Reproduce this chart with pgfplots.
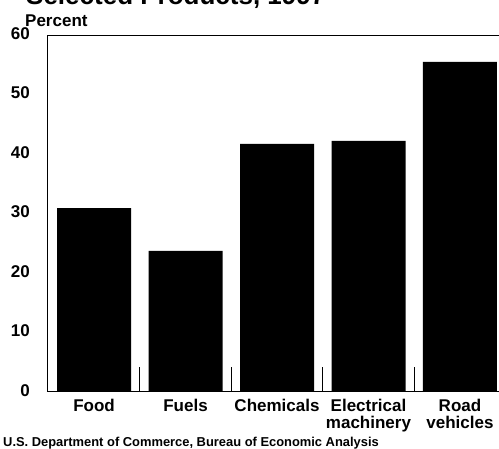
\documentclass[border=0pt]{standalone}
\usepackage{fontspec}
\setmainfont{Liberation Sans}
\usepackage{pgfplots}
\pgfplotsset{compat=1.18}
\begin{document}
\begin{tikzpicture}
\path[use as bounding box] (0,0) rectangle (499pt,449pt);
% title is cut off at the top in the reference
\node[anchor=base west, inner sep=0pt, font=\bfseries\fontsize{26}{28}\selectfont] at (26pt,444.5pt) {Selected Products, 1997};
\node[anchor=base west, inner sep=0pt, font=\bfseries\fontsize{17}{18}\selectfont] at (25pt,422pt) {Percent};
\node[anchor=base west, inner sep=0pt, font=\bfseries\fontsize{12.9}{13}\selectfont] at (3pt,2.5pt) {U.S. Department of Commerce, Bureau of Economic Analysis};
\begin{axis}[
    at={(48pt,57pt)}, anchor=south west,
    scale only axis,
    width=455pt, height=357pt,
    xmin=-0.503, xmax=4.47,
    ymin=0, ymax=60,
    ybar, bar width=74pt,
    axis line style={line width=1pt},
    ytick={0,10,...,60},
    xtick={0,...,4},
    xticklabels={Food,Fuels,Chemicals,{Electrical\\machinery},{Road\\vehicles}},
    minor xtick={0.5,1.5,2.5,3.5},
    major tick length=0pt,
    minor tick length=25pt,
    tick align=inside,
    xtick pos=left, ytick pos=left,
    minor tick style={black, line width=0.6pt},
    /pgf/number format/assume math mode=true,
    yticklabel style={font=\bfseries\fontsize{17}{18}\selectfont, inner sep=0pt, xshift=-18pt, yshift=1.5pt},
    xticklabel style={font=\bfseries\fontsize{17}{17}\selectfont, align=center, inner sep=0pt, yshift=-7pt},
]
\addplot[fill=black, draw=none] coordinates {
    (0,30.9)
    (1,23.7)
    (2,41.7)
    (3,42.2)
    (4,55.5)
};
\end{axis}
\end{tikzpicture}
\end{document}
